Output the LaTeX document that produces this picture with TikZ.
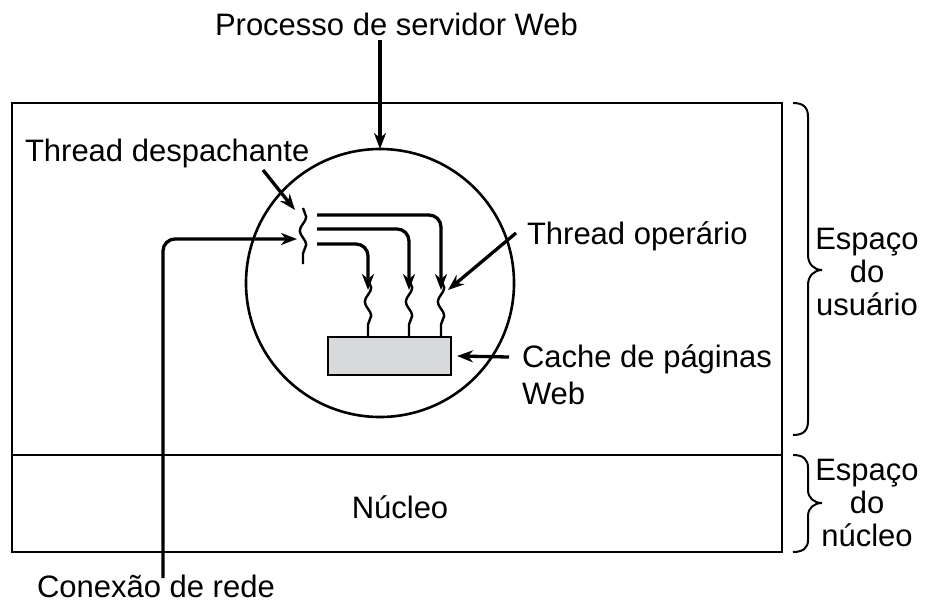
\documentclass[tikz,border=0pt]{standalone}
\usepackage{fontspec}
\setmainfont{Liberation Sans}
\usetikzlibrary{arrows.meta,decorations.pathmorphing}
\definecolor{cachegray}{RGB}{216,217,219}
\begin{document}
\begin{tikzpicture}[x=1pt,y=-1pt,
  every node/.style={inner sep=0pt,outer sep=0pt},
  lbl/.style={font=\fontsize{31}{34}\selectfont},
  frame/.style={draw,line width=2.8pt},
  arr/.style={line width=3.3pt,-{Stealth[length=16pt,width=12pt,inset=5pt]}},
  flow/.style={line width=3.3pt,rounded corners=12pt,-{Stealth[length=16pt,width=12pt,inset=5pt]}},
  wavy/.style={line width=2.4pt,decorate,decoration={snake,amplitude=3.2pt,segment length=28pt}},
  bracestyle/.style={line width=2pt}]
\useasboundingbox (0,0) rectangle (925,603);

% user space and kernel space boxes
\node[frame,anchor=north west,minimum width=770pt,minimum height=352pt] (user) at (12,103) {};
\node[frame,anchor=north west,minimum width=770pt,minimum height=97pt] (kernel) at (12,455) {};
\node[lbl,anchor=base] (nucleo) at (400,518) {Núcleo};

% the web server process
\node[draw,circle,line width=2.6pt,minimum size=268pt] (proc) at (380,283) {};
\node[lbl,anchor=base west] (title) at (215,35) {Processo de servidor Web};
\draw[arr] (proc.north |- title.south) ++(0,5) -- (proc.north);

% page cache
\node[draw,fill=cachegray,line width=2.6pt,minimum width=123pt,minimum height=38pt] (cache) at (389.5,356) {};

% dispatcher thread
\coordinate (dtop) at (303,208);
\coordinate (dbot) at (303,264);
\draw[wavy] (dtop) -- (dbot);
\coordinate (dnet) at (297,239);
\coordinate (dhook) at (295,210);

% worker threads
\coordinate (w1) at (368,279);
\coordinate (w2) at (409,279);
\coordinate (w3) at (441,279);
\draw[wavy] (w1) -- (w1 |- cache.north);
\draw[wavy] (w2) -- (w2 |- cache.north);
\draw[wavy] (w3) -- (w3 |- cache.north);

% dispatcher hands work to the workers
\coordinate (o1) at (317,215);
\coordinate (o2) at (317,229);
\coordinate (o3) at (317,244);
\draw[flow] (o1) -| ([yshift=-11pt]w3);
\draw[flow] (o2) -| ([yshift=-11pt]w2);
\draw[flow] (o3) -| ([yshift=-11pt]w1);

% network connection
\coordinate (netend) at (163,578);
\draw[flow] (netend) |- (dnet);
\node[lbl,anchor=base west] (conexao) at (37,597) {Conexão de rede};

% labels with pointers
\node[lbl,anchor=base west] (disp) at (25,161) {Thread despachante};
\draw[arr] (263,170) -- (dhook);
\node[lbl,anchor=base west] (oper) at (527,244) {Thread operário};
\coordinate (wtip) at (448,290);
\draw[arr] (516,233) -- (wtip);
\node[lbl,anchor=base west] (cachelbl) at (522,367) {Cache de páginas};
\node[lbl,anchor=base west] (cacheweb) at (522,404) {Web};
\draw[arr] (509,357) -- ([xshift=6pt]cache.east);

% braces for the two spaces
\draw[bracestyle] (793,103) .. controls (803,103) and (808,107) .. (808,117) -- (808,255)
  .. controls (808,264) and (814,270) .. (822,270)
  .. controls (814,270) and (808,276) .. (808,285) -- (808,421)
  .. controls (808,431) and (803,435) .. (793,435);
\draw[bracestyle] (793,455) .. controls (803,455) and (808,459) .. (808,468) -- (808,490)
  .. controls (808,498) and (814,503) .. (822,503)
  .. controls (814,503) and (808,508) .. (808,516) -- (808,540)
  .. controls (808,548) and (803,552) .. (793,552);
\node[lbl,align=center,font=\fontsize{31}{33}\selectfont] (usp) at (867,272) {Espaço\\do\\usuário};
\node[lbl,align=center,font=\fontsize{31}{33}\selectfont] (ksp) at (867,503) {Espaço\\do\\núcleo};
\end{tikzpicture}
\end{document}
